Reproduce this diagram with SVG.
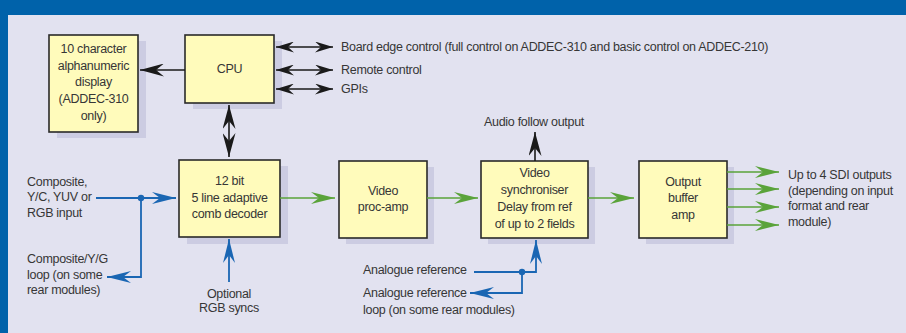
<svg xmlns="http://www.w3.org/2000/svg" width="906" height="333" viewBox="0 0 906 333">
<style>
.bg{fill:#E2E2F0}
.frame{fill:#0062AA}
.box{fill:#FFFBBB;stroke:#2A2A2A;stroke-width:1.6}
.sh{fill:#CCCCE2}
text{font-family:"Liberation Sans",Arial,sans-serif;font-size:12.5px;letter-spacing:-0.3px;fill:#363636}
.c{text-anchor:middle}
.k{stroke:#1A1A1A;stroke-width:1.6;fill:none}
.g{stroke:#5AA33A;stroke-width:1.6;fill:none}
.b{stroke:#1A66B3;stroke-width:1.8;fill:none}
</style>
<defs>
<marker id="mk" markerUnits="userSpaceOnUse" viewBox="0 0 18 11" refX="18" refY="5.5" markerWidth="18" markerHeight="11" orient="auto-start-reverse"><path d="M0,0 L18,5.5 L0,11 L6,5.5 Z" fill="#1A1A1A"/></marker>
<marker id="mkL" markerUnits="userSpaceOnUse" viewBox="0 0 24 13" refX="24" refY="6.5" markerWidth="24" markerHeight="13" orient="auto-start-reverse"><path d="M0,0 L24,6.5 L0,13 L8,6.5 Z" fill="#1A1A1A"/></marker>
<marker id="mg" markerUnits="userSpaceOnUse" viewBox="0 0 24 12" refX="24" refY="6" markerWidth="24" markerHeight="12" orient="auto"><path d="M0,0 L24,6 L0,12 L8,6 Z" fill="#5AA33A"/></marker>
<marker id="mb" markerUnits="userSpaceOnUse" viewBox="0 0 24 12" refX="24" refY="6" markerWidth="24" markerHeight="12" orient="auto"><path d="M0,0 L24,6 L0,12 L8,6 Z" fill="#1A66B3"/></marker>
</defs>
<rect class="bg" x="0" y="0" width="906" height="333"/>
<rect class="frame" x="0" y="0" width="906" height="15"/>
<rect class="frame" x="0" y="0" width="8" height="333"/>

<g id="display">
<rect class="sh" x="57" y="41" width="89" height="97"/>
<rect class="box" x="49" y="35" width="89" height="97"/>
<text class="c" x="93.5" y="53">10 character</text>
<text class="c" x="93.5" y="70">alphanumeric</text>
<text class="c" x="93.5" y="86">display</text>
<text class="c" x="93.5" y="103">(ADDEC-310</text>
<text class="c" x="93.5" y="120">only)</text>
</g>
<g id="cpu">
<rect class="sh" x="193" y="41" width="89" height="68"/>
<rect class="box" x="185" y="35" width="89" height="68"/>
<text class="c" x="229.5" y="73">CPU</text>
</g>
<g id="comb">
<rect class="sh" x="187" y="166" width="101" height="78"/>
<rect class="box" x="179" y="160" width="101" height="77"/>
<text class="c" x="229.5" y="185">12 bit</text>
<text class="c" x="229.5" y="202">5 line adaptive</text>
<text class="c" x="229.5" y="218">comb decoder</text>
</g>
<g id="procamp">
<rect class="sh" x="346" y="167" width="88" height="77"/>
<rect class="box" x="339" y="161" width="88" height="77"/>
<text class="c" x="383" y="195">Video</text>
<text class="c" x="383" y="211">proc-amp</text>
</g>
<g id="sync">
<rect class="sh" x="488" y="167" width="107" height="77"/>
<rect class="box" x="481" y="161" width="107" height="77"/>
<text class="c" x="534.5" y="177">Video</text>
<text class="c" x="534.5" y="194">synchroniser</text>
<text class="c" x="534.5" y="211">Delay from ref</text>
<text class="c" x="534.5" y="228">of up to 2 fields</text>
</g>
<g id="outbuf">
<rect class="sh" x="646" y="167" width="88" height="77"/>
<rect class="box" x="639" y="161" width="88" height="77"/>
<text class="c" x="683" y="186">Output</text>
<text class="c" x="683" y="202">buffer</text>
<text class="c" x="683" y="219">amp</text>
</g>

<g id="labels">
<text x="341" y="51">Board edge control (full control on ADDEC-310 and basic control on ADDEC-210)</text>
<text x="341" y="74">Remote control</text>
<text x="341" y="93">GPIs</text>
<text x="27" y="186">Composite,</text>
<text x="27" y="201">Y/C, YUV or</text>
<text x="27" y="217">RGB input</text>
<text x="27" y="263">Composite/Y/G</text>
<text x="27" y="279">loop (on some</text>
<text x="27" y="294">rear modules)</text>
<text class="c" x="229" y="298">Optional</text>
<text class="c" x="229" y="312">RGB syncs</text>
<text class="c" x="534" y="126">Audio follow output</text>
<text x="363" y="274">Analogue reference</text>
<text x="363" y="297">Analogue reference</text>
<text x="363" y="314">loop (on some rear modules)</text>
<text x="788" y="179">Up to 4 SDI outputs</text>
<text x="788" y="195">(depending on input</text>
<text x="788" y="210">format and rear</text>
<text x="788" y="226">module)</text>
</g>

<g id="connectors">
<line class="k" x1="185" y1="70" x2="140" y2="70" marker-end="url(#mkL)"/>
<line class="k" x1="229" y1="105" x2="229" y2="157" marker-start="url(#mkL)" marker-end="url(#mkL)"/>
<line class="k" x1="276" y1="47" x2="333" y2="47" marker-start="url(#mk)" marker-end="url(#mk)"/>
<line class="k" x1="276" y1="70" x2="333" y2="70" marker-start="url(#mk)" marker-end="url(#mk)"/>
<line class="k" x1="276" y1="89" x2="333" y2="89" marker-start="url(#mk)" marker-end="url(#mk)"/>
<line class="k" x1="535" y1="161" x2="535" y2="132" marker-end="url(#mkL)"/>
<line class="g" x1="280" y1="198" x2="335" y2="198" marker-end="url(#mg)"/>
<line class="g" x1="427" y1="198" x2="478" y2="198" marker-end="url(#mg)"/>
<line class="g" x1="588" y1="198" x2="634" y2="198" marker-end="url(#mg)"/>
<line class="g" x1="727" y1="172" x2="779" y2="172" marker-end="url(#mg)"/>
<line class="g" x1="727" y1="189" x2="779" y2="189" marker-end="url(#mg)"/>
<line class="g" x1="727" y1="207" x2="779" y2="207" marker-end="url(#mg)"/>
<line class="g" x1="727" y1="225" x2="779" y2="225" marker-end="url(#mg)"/>
<line class="b" x1="96" y1="198" x2="176" y2="198" marker-end="url(#mb)"/>
<polyline class="b" points="141,198 141,277 107,277" marker-end="url(#mb)"/>
<circle cx="141" cy="198" r="3.2" fill="#1A66B3"/>
<line class="b" x1="229" y1="282" x2="229" y2="239" marker-end="url(#mb)"/>
<polyline class="b" points="474,272 536,272 536,240" marker-end="url(#mb)"/>
<polyline class="b" points="522,272 522,293 470,293" marker-end="url(#mb)"/>
<circle cx="522" cy="272" r="3.2" fill="#1A66B3"/>
</g>
</svg>
